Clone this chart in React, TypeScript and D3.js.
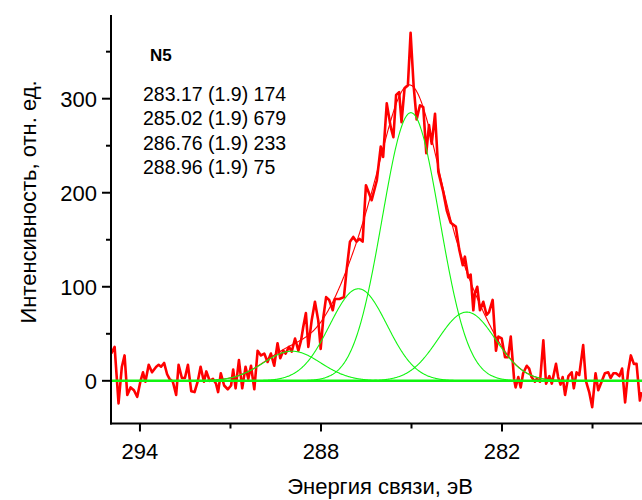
import React from "react";
import * as d3 from "d3";

// Binding energy (eV) of each measured point of the C 1s spectrum
const energyEV = [
  294.95, 294.84, 294.71, 294.6, 294.51, 294.42, 294.31, 294.2, 294.09, 293.98,
  293.9, 293.82, 293.71, 293.6, 293.46, 293.38, 293.3, 293.2, 293.1, 293.02,
  292.91, 292.8, 292.72, 292.61, 292.51, 292.41, 292.3, 292.19, 292.08, 291.99,
  291.88, 291.8, 291.69, 291.58, 291.48, 291.41, 291.32, 291.21, 291.09, 290.98,
  290.91, 290.83, 290.72, 290.61, 290.5, 290.41, 290.32, 290.21, 290.1, 289.99,
  289.88, 289.77, 289.66, 289.55, 289.44, 289.35, 289.25, 289.17, 289.06, 288.97,
  288.86, 288.75, 288.66, 288.59, 288.5, 288.42, 288.31, 288.2, 288.09, 288.01,
  287.92, 287.83, 287.73, 287.61, 287.54, 287.39, 287.24, 287.15, 287.04, 286.93,
  286.82, 286.73, 286.62, 286.51, 286.32, 286.15, 286.02, 285.94, 285.82, 285.69,
  285.6, 285.51, 285.41, 285.33, 285.23, 285.12, 285.03, 284.93, 284.83, 284.72,
  284.61, 284.51, 284.42, 284.33, 284.22, 284.11, 283.95, 283.83, 283.7, 283.53,
  283.42, 283.3, 283.23, 283.12, 283.04, 282.95, 282.9, 282.82, 282.73, 282.62,
  282.51, 282.43, 282.31, 282.2, 282.12, 282.01, 281.9, 281.8, 281.71, 281.6,
  281.55, 281.46, 281.38, 281.3, 281.18, 281.1, 281.02, 280.91, 280.85, 280.74,
  280.63, 280.54, 280.43, 280.35, 280.21, 280.14, 280.06, 279.99, 279.91, 279.8,
  279.69, 279.62, 279.53, 279.44, 279.31, 279.22, 279.11, 279.01, 278.9, 278.81,
  278.7, 278.59, 278.48, 278.4, 278.31, 278.22, 278.11, 278.02, 277.92, 277.82,
  277.73, 277.63, 277.54, 277.43, 277.38,
];

// Measured intensity (arb. units) after background subtraction
const intensity = [
  29, 36, -24, 15, 27, -15, -7, -10, -17, 0,
  9, -1, 17, 9, 15, 17, 15, 19, 7, 2,
  -1, -15, 17, 3, 3, 17, -11, -12, 0, 15,
  -1, 10, 0, 2, -3, -12, 8, -5, -9, -5,
  12, -8, 22, -8, 15, 2, 16, -9, 32, 27,
  29, 20, 29, 16, 40, 24, 32, 29, 36, 31,
  45, 32, 43, 57, 72, 36, 64, 84, 64, 34,
  68, 89, 86, 75, 87, 87, 89, 118, 148, 153,
  148, 151, 148, 208, 192, 213, 249, 238, 295, 270,
  259, 304, 307, 275, 311, 314, 370, 314, 278, 293,
  291, 242, 272, 252, 284, 222, 201, 181, 168, 164,
  140, 123, 132, 110, 113, 75, 93, 100, 75, 84,
  70, 73, 86, 32, 47, 45, 25, 25, 47, 2,
  -7, 4, -7, 8, 16, 13, 4, -1, 2, -1,
  43, -3, 5, -3, 18, 4, -4, 4, -15, 5,
  9, -8, 9, 6, 38, 0, -12, -28, 8, -10,
  -1, 8, 9, 3, 8, 8, 5, 13, -23, 10,
  27, 18, 18, -21, -12,
];

// Fitted Gaussian components: centre (eV), width w (eV), area
const peakCenter = [283.17, 285.02, 286.76, 288.96];
const peakWidth = [1.9, 1.9, 1.9, 1.9];
const peakArea = [174, 679, 233, 75];

const sampleName = "N5";
const xTicksMajor = [294, 288, 282];
const xTicksMinor = [291, 285, 279];
const yTicksMajor = [0, 100, 200, 300];
const yTicksMinor = [50, 150, 250, 350];
const xTitle = "Энергия связи, эВ";
const yTitle = "Интенсивность, отн. ед.";

const FONT = "'Liberation Sans', Arial, Helvetica, sans-serif";
const W = 642;
const H = 500;
const GREEN = "#11f511";
const RED = "#ff0000";

// Gaussian in the (xc, w, A) form: y = A / (w·sqrt(π/2)) · exp(-2 (x - xc)² / w²)
function gauss(x: number, xc: number, w: number, a: number) {
  return (a / (w * Math.sqrt(Math.PI / 2))) * Math.exp((-2 * (x - xc) * (x - xc)) / (w * w));
}

export default function App() {
  const left = 111;
  const right = 642;
  const top = 15;
  const bottom = 423.5;

  const x = d3.scaleLinear().domain([294.96, 277.36]).range([left, right]);
  const y = d3.scaleLinear().domain([-45.4, 389]).range([bottom, top]);

  const grid = d3.range(295, 277.3, -0.02);

  const dataLine = d3
    .line<number>()
    .x((_, i) => x(energyEV[i]))
    .y((v) => y(v));

  const curve = d3.line<number>().x((e) => x(e));

  const components = peakCenter.map(
    (c, k) => curve.y((e) => y(gauss(e, c, peakWidth[k], peakArea[k])))(grid) as string
  );
  const envelope = curve.y((e) =>
    y(peakCenter.reduce((s, c, k) => s + gauss(e, c, peakWidth[k], peakArea[k]), 0))
  )(grid) as string;

  const labels = peakCenter.map(
    (c, k) => `${c.toFixed(2)} (${peakWidth[k]}) ${peakArea[k]}`
  );

  return (
    <svg
      width={W}
      height={H}
      style={{ position: "absolute", left: 0, top: 0, background: "#fff" }}
      fontFamily={FONT}
    >
      <defs>
        <clipPath id="plotArea">
          <rect x={left} y={top} width={right - left} height={bottom - top} />
        </clipPath>
      </defs>

      <g clipPath="url(#plotArea)">
        <path
          d={dataLine(intensity) as string}
          fill="none"
          stroke={RED}
          strokeWidth={2.6}
          strokeLinejoin="round"
        />
        <path d={envelope} fill="none" stroke={RED} strokeWidth={1.1} />
        <line x1={left} x2={right} y1={y(0)} y2={y(0)} stroke={GREEN} strokeWidth={2.4} />
        {components.map((d, k) => (
          <path key={k} d={d} fill="none" stroke={GREEN} strokeWidth={1.1} />
        ))}
      </g>

      {/* axes */}
      <line x1={left} x2={left} y1={top} y2={bottom + 1} stroke="#000" strokeWidth={2} />
      <line x1={left - 1} x2={right} y1={bottom} y2={bottom} stroke="#000" strokeWidth={2} />

      {xTicksMajor.map((t) => (
        <g key={"xM" + t}>
          <line x1={x(t)} x2={x(t)} y1={bottom} y2={bottom + 8} stroke="#000" strokeWidth={2} />
          <text x={x(t)} y={bottom + 35} textAnchor="middle" fontSize={22} fill="#000">
            {t}
          </text>
        </g>
      ))}
      {xTicksMinor.map((t) => (
        <line key={"xm" + t} x1={x(t)} x2={x(t)} y1={bottom} y2={bottom + 5} stroke="#000" strokeWidth={2} />
      ))}

      {yTicksMajor.map((t) => (
        <g key={"yM" + t}>
          <line x1={left - 9} x2={left} y1={y(t)} y2={y(t)} stroke="#000" strokeWidth={2} />
          <text x={97} y={y(t) + 8} textAnchor="end" fontSize={22} fill="#000">
            {t}
          </text>
        </g>
      ))}
      {yTicksMinor.map((t) => (
        <line key={"ym" + t} x1={left - 5} x2={left} y1={y(t)} y2={y(t)} stroke="#000" strokeWidth={2} />
      ))}

      <text x={380} y={494} textAnchor="middle" fontSize={22} fill="#000">
        {xTitle}
      </text>
      <text
        transform="translate(36,202) rotate(-90)"
        textAnchor="middle"
        fontSize={22}
        fill="#000"
      >
        {yTitle}
      </text>

      <text x={150} y={61} fontSize={17} fontWeight="bold" fill="#000">
        {sampleName}
      </text>
      {labels.map((s, k) => (
        <text key={k} x={143} y={101 + k * 24.3} fontSize={19.5} fill="#000">
          {s}
        </text>
      ))}
    </svg>
  );
}
